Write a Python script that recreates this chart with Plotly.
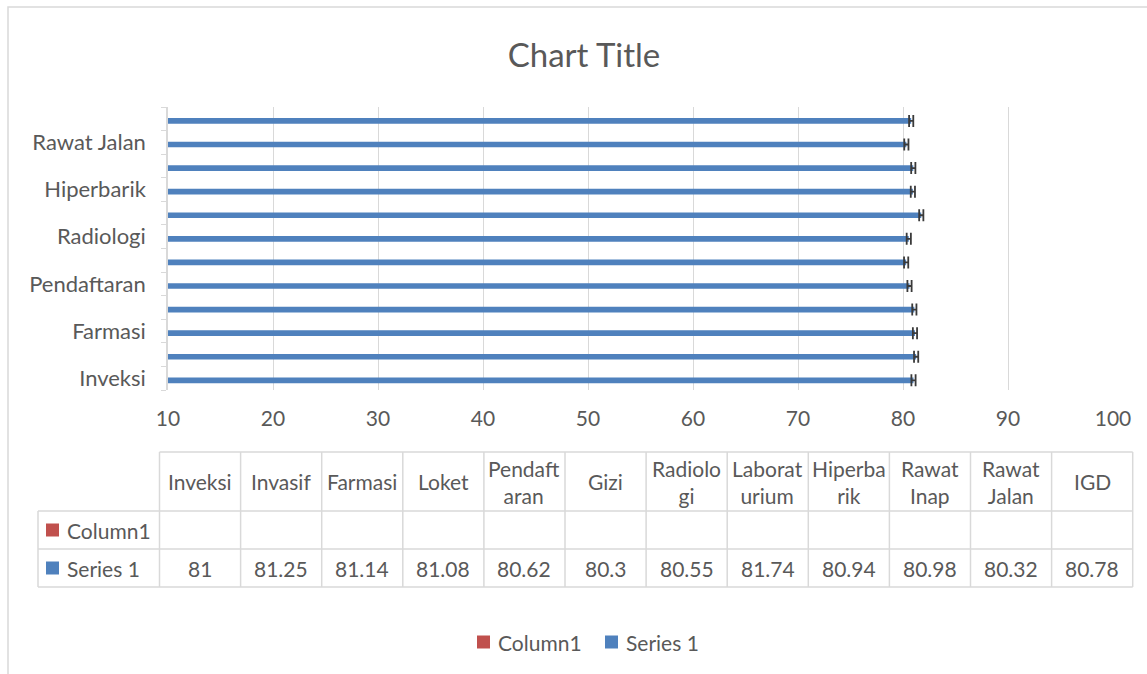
import plotly.graph_objects as go

# ---------------- data ----------------
categories = ["Inveksi", "Invasif", "Farmasi", "Loket", "Pendaftaran", "Gizi",
              "Radiologi", "Laboratorium", "Hiperbarik", "Rawat Inap", "Rawat Jalan", "IGD"]
series1 = [81, 81.25, 81.14, 81.08, 80.62, 80.3, 80.55, 81.74, 80.94, 80.98, 80.32, 80.78]
column1 = [None] * len(categories)
table_headers = ["Inveksi", "Invasif", "Farmasi", "Loket", "Pendaft<br>aran", "Gizi",
                 "Radiolo<br>gi", "Laborat<br>urium", "Hiperba<br>rik", "Rawat<br>Inap",
                 "Rawat<br>Jalan", "IGD"]
series_names = ["Column1", "Series 1"]
x_ticks = [10, 20, 30, 40, 50, 60, 70, 80, 90, 100]
error_size = [0.2] * len(categories)

# ---------------- style ----------------
W, H = 1147, 674
FONT = "Lato"
TXT = "#595959"
GRID = "#d9d9d9"
COLORS = {"Column1": "#C0504D", "Series 1": "#4F81BD"}
FS = 21


def px(x):
    return x / W


def py(y):
    return 1 - y / H


fig = go.Figure()
fig.add_trace(go.Bar(
    x=column1, y=categories, orientation="h", name=series_names[0],
    marker_color=COLORS["Column1"], showlegend=False,
))
fig.add_trace(go.Bar(
    x=series1, y=categories, orientation="h", name=series_names[1],
    marker_color=COLORS["Series 1"], width=0.24, offset=-0.21,
    error_x=dict(type="data", array=error_size, color="#3a3a3a", thickness=1.8, width=6),
    showlegend=False,
))

plot_left, plot_right = 168, 1113
plot_top, plot_bottom = 107, 390

fig.update_layout(
    template="none",
    width=W, height=H, autosize=False,
    margin=dict(l=0, r=0, t=0, b=0, pad=0),
    paper_bgcolor="white", plot_bgcolor="white",
    font=dict(family=FONT, size=FS, color=TXT),
    title=dict(text="Chart Title", x=584 / W, xanchor="center", y=py(55), yanchor="middle",
               font=dict(family=FONT, size=33, color=TXT)),
    showlegend=False,
    xaxis=dict(domain=[px(plot_left), px(plot_right)], range=[x_ticks[0], x_ticks[-1]],
               tickvals=x_ticks, showgrid=True, gridcolor=GRID, gridwidth=1,
               zeroline=False, showline=False, ticks="", ticklabelstandoff=14,
               automargin=False,
               tickfont=dict(family=FONT, size=FS, color=TXT)),
    yaxis=dict(domain=[py(plot_bottom), py(plot_top)], type="category",
               categoryorder="array", categoryarray=categories,
               range=[-0.5, len(categories) - 0.5],
               tickmode="array", tickvals=categories,
               ticktext=[c if i % 2 == 0 else "" for i, c in enumerate(categories)],
               tickson="boundaries", ticks="outside", ticklen=5, tickcolor=GRID,
               showline=True, linecolor=GRID, linewidth=1.5, showgrid=False,
               ticklabelstandoff=16, automargin=False,
               tickfont=dict(family=FONT, size=22, color=TXT)),
)

shapes = []
annotations = []

# outer chart frame
shapes.append(dict(type="rect", xref="paper", yref="paper", x0=px(8), x1=1.05,
                   y0=py(7), y1=-0.05, line=dict(color=GRID, width=1.5), layer="below"))

# ---------------- data table ----------------
n = len(categories)
col_left, col_w = 159.5, 81.1
label_left = 38
row_y = [452, 511, 549, 587]
cx = [col_left + i * col_w for i in range(n + 1)]


def hline(y, x0, x1):
    shapes.append(dict(type="line", xref="paper", yref="paper", x0=px(x0), x1=px(x1),
                       y0=py(y), y1=py(y), line=dict(color=GRID, width=1.5)))


def vline(x, y0, y1):
    shapes.append(dict(type="line", xref="paper", yref="paper", x0=px(x), x1=px(x),
                       y0=py(y0), y1=py(y1), line=dict(color=GRID, width=1.5)))


hline(row_y[0], cx[0], cx[-1])
for y in row_y[1:]:
    hline(y, label_left, cx[-1])
for x in cx:
    vline(x, row_y[0], row_y[-1])
vline(label_left, row_y[1], row_y[-1])

for i in range(n):
    xc = (cx[i] + cx[i + 1]) / 2
    annotations.append(dict(x=px(xc), y=py((row_y[0] + row_y[1]) / 2), xref="paper", yref="paper",
                            text=table_headers[i], showarrow=False, xanchor="center",
                            yanchor="middle", font=dict(family=FONT, size=FS, color=TXT)))
    annotations.append(dict(x=px(xc), y=py((row_y[2] + row_y[3]) / 2), xref="paper", yref="paper",
                            text=f"{series1[i]:g}", showarrow=False, xanchor="center",
                            yanchor="middle", font=dict(family=FONT, size=FS, color=TXT)))

# row labels with legend keys
for k, name in enumerate(series_names):
    yc = (row_y[1 + k] + row_y[2 + k]) / 2
    shapes.append(dict(type="rect", xref="paper", yref="paper", x0=px(46), x1=px(59),
                       y0=py(yc - 6.5), y1=py(yc + 6.5), fillcolor=COLORS[name], line=dict(width=0)))
    annotations.append(dict(x=px(65), y=py(yc), xref="paper", yref="paper", text=name,
                            showarrow=False, xanchor="left", yanchor="middle",
                            font=dict(family=FONT, size=FS, color=TXT)))

# bottom legend
leg_y = 642
for name, x0 in zip(series_names, [477, 605]):
    shapes.append(dict(type="rect", xref="paper", yref="paper", x0=px(x0), x1=px(x0 + 13),
                       y0=py(leg_y - 6.5), y1=py(leg_y + 6.5), fillcolor=COLORS[name],
                       line=dict(width=0)))
    annotations.append(dict(x=px(x0 + 19), y=py(leg_y), xref="paper", yref="paper", text=name,
                            showarrow=False, xanchor="left", yanchor="middle",
                            font=dict(family=FONT, size=FS, color=TXT)))

fig.update_layout(shapes=shapes, annotations=annotations)
fig.write_html(
    "out.html",
    config={"displayModeBar": False},
    post_script=("document.documentElement.style.margin='0';"
                 "document.body.style.margin='0';"
                 "document.body.style.overflow='hidden';"
                 "document.documentElement.style.overflow='hidden';"
                 "var d=document.getElementById('{plot_id}');"
                 "d.style.position='fixed';d.style.left='0px';d.style.top='0px';"),
)
